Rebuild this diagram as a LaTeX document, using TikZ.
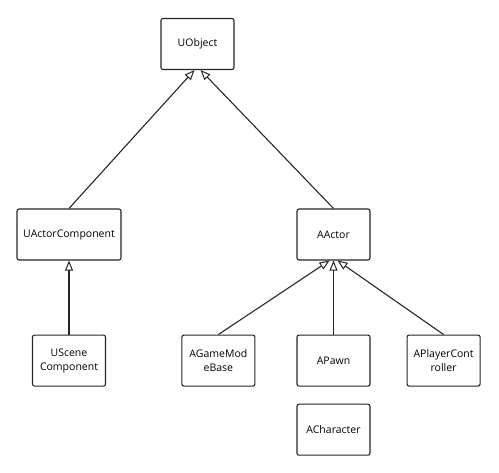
\documentclass[tikz,border=0pt]{standalone}
\usepackage{fontspec}
\setmainfont{Open Sans}
\usepackage{tikz}
\usetikzlibrary{arrows.meta, positioning}
\tikzstyle{inherit} = [line width=1.1pt, draw=black!85, -{Triangle[open, length=10pt, width=8pt, line width=1pt]}]
\tikzstyle{classbox} = [rectangle, rounded corners=2pt, minimum width=73pt, minimum height=51pt,
                        text centered, draw=black!85, line width=1.1pt, fill=white,
                        font=\fontsize{10.5}{14}\selectfont, align=center, inner sep=2pt]

\begin{document}
\begin{tikzpicture}[x=1pt, y=-1pt]
    \useasboundingbox (0,0) rectangle (499,473);
    % Class boxes
    \node[classbox] (uobj) at (197.5,44) {UObject};
    \node[classbox, minimum width=104pt] (uac) at (69,234.5) {UActorComponent};
    \node[classbox] (aact) at (333.5,234.5) {AActor};

    \node[classbox, below=74pt of uac] (usc) {UScene\\Component};
    \node[classbox, below=74pt of aact] (apawn) {APawn};
    \node[classbox, left=41pt of apawn] (agmb) {AGameMod\\eBase};
    \node[classbox, right=36pt of apawn] (apc) {APlayerCont\\roller};
    \node[classbox, below=17pt of apawn] (achr) {ACharacter};

    % Inheritance arrows
    \draw[inherit] (uac.north) -- ([xshift=-3pt]uobj.south);
    \draw[inherit] (aact.north) -- ([xshift=3pt]uobj.south);
    \draw[inherit] (usc.north) -- (uac.south);
    \draw[inherit] (agmb.north) -- ([xshift=-4pt]aact.south);
    \draw[inherit] (apawn.north) -- (aact.south);
    \draw[inherit] (apc.north) -- ([xshift=4pt]aact.south);
\end{tikzpicture}
\end{document}
